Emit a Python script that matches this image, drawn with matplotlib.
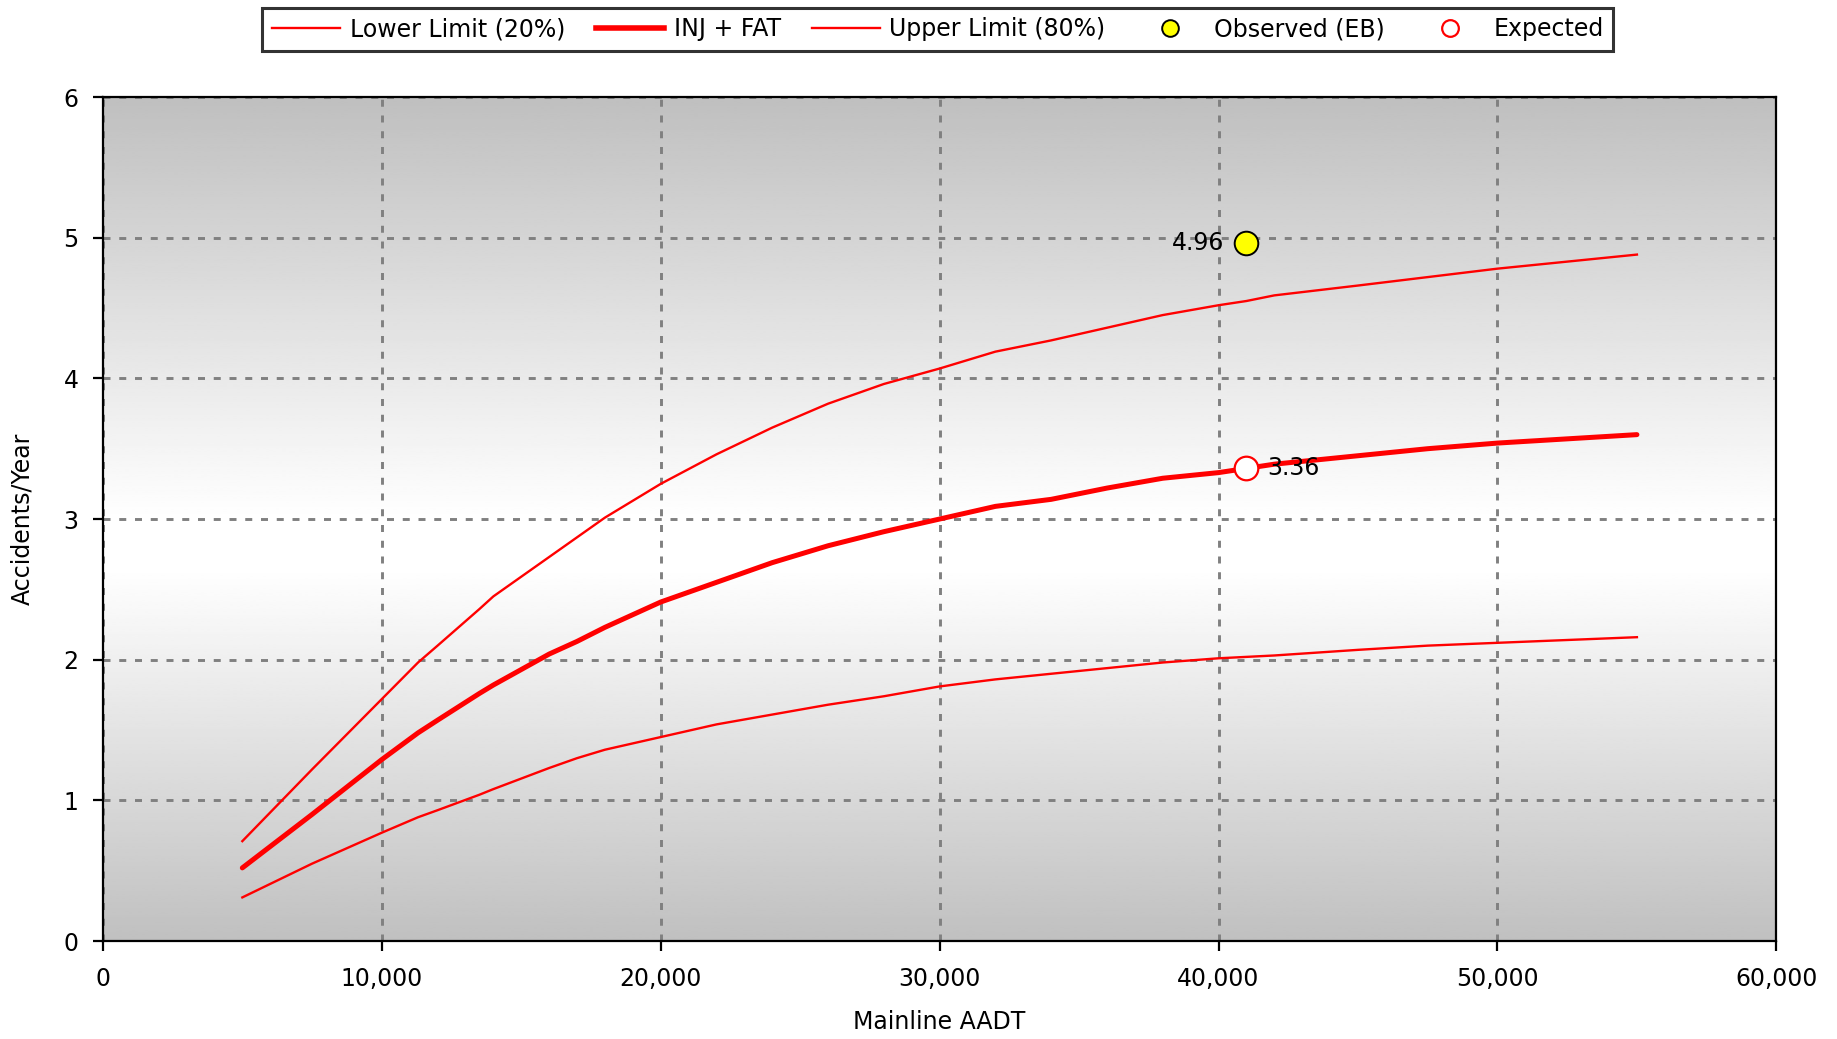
import numpy as np
import matplotlib
matplotlib.use("Agg")
import matplotlib.pyplot as plt
from matplotlib.lines import Line2D

plt.rcParams['font.family'] = ['DejaVu Sans']

aadt = [5000, 7500, 10000, 11300, 12000, 13500, 14000, 16000, 17000, 18000, 20000,
        22000, 24000, 26000, 28000, 30000, 32000, 34000, 36000, 38000, 40000, 41000,
        42000, 45000, 47500, 50000, 52500, 55000]
inj_fat = [0.52, 0.90, 1.29, 1.48, 1.57, 1.76, 1.82, 2.04, 2.13, 2.23, 2.41,
           2.55, 2.69, 2.81, 2.91, 3.00, 3.09, 3.14, 3.22, 3.29, 3.33, 3.36,
           3.39, 3.45, 3.50, 3.54, 3.57, 3.60]
upper = [0.71, 1.22, 1.72, 1.98, 2.10, 2.36, 2.45, 2.73, 2.87, 3.01, 3.25,
         3.46, 3.65, 3.82, 3.96, 4.07, 4.19, 4.27, 4.36, 4.45, 4.52, 4.55,
         4.59, 4.66, 4.72, 4.78, 4.83, 4.88]
lower = [0.31, 0.55, 0.77, 0.88, 0.93, 1.04, 1.08, 1.23, 1.30, 1.36, 1.45,
         1.54, 1.61, 1.68, 1.74, 1.81, 1.86, 1.90, 1.94, 1.98, 2.01, 2.02,
         2.03, 2.07, 2.10, 2.12, 2.14, 2.16]
site_aadt = 41000
observed = 4.96
expected = 3.36

x_ticks = [0, 10000, 20000, 30000, 40000, 50000, 60000]
y_ticks = [0, 1, 2, 3, 4, 5, 6]

FS = 17

fig = plt.figure(figsize=(18.37, 10.39), dpi=100)
ax = fig.add_axes([0.056, 0.0943, 0.911, 0.8123])

# gradient background
yy = np.linspace(0, 6, 400)
g = np.interp(yy, [0, 2.65, 3.0, 6], [0.753, 1.0, 1.0, 0.75])
img = np.repeat(g[:, None], 2, axis=1)
ax.imshow(img, extent=[0, 60000, 0, 6], origin='lower', aspect='auto',
          cmap='gray', vmin=0, vmax=1, zorder=0, interpolation='bilinear')

ax.set_xlim(0, 60000)
ax.set_ylim(0, 6)
ax.set_xticks(x_ticks)
ax.set_yticks(y_ticks)
ax.set_xticklabels([f"{v:,}" for v in x_ticks])
ax.set_yticklabels([str(v) for v in y_ticks])
ax.grid(True, color='#808080', linestyle=(0, (2.4, 3.0)), linewidth=2.1, zorder=1)

for s in ax.spines.values():
    s.set_linewidth(1.6)
    s.set_color('black')
    s.set_zorder(5)

ax.tick_params(axis='both', direction='out', length=7.5, width=1.6, labelsize=FS, colors='black')
ax.tick_params(axis='x', pad=11)
ax.tick_params(axis='y', pad=10)

ax.plot(aadt, lower, color='red', lw=1.7, zorder=3)
ax.plot(aadt, inj_fat, color='red', lw=3.6, zorder=3, solid_capstyle='round')
ax.plot(aadt, upper, color='red', lw=1.7, zorder=3)

ax.plot([site_aadt], [observed], 'o', ms=17, mfc='yellow', mec='black', mew=1.4, zorder=6)
ax.plot([site_aadt], [expected], 'o', ms=17, mfc='white', mec='red', mew=1.6, zorder=6)
ax.annotate(f"{observed:.2f}", (site_aadt, observed), xytext=(-16, 0), textcoords='offset points',
            ha='right', va='center', fontsize=FS, zorder=7)
ax.annotate(f"{expected:.2f}", (site_aadt, expected), xytext=(15, 0), textcoords='offset points',
            ha='left', va='center', fontsize=FS, zorder=7)

ax.set_xlabel("Mainline AADT", fontsize=FS)
ax.set_ylabel("Accidents/Year", fontsize=FS)
ax.xaxis.set_label_coords(0.5, -0.082)
ax.yaxis.set_label_coords(-0.041, 0.5)

handles = [
    Line2D([], [], color='red', lw=1.7),
    Line2D([], [], color='red', lw=4.0),
    Line2D([], [], color='red', lw=1.7),
    Line2D([], [], ls='none', marker='o', ms=12, mfc='yellow', mec='black', mew=1.4),
    Line2D([], [], ls='none', marker='o', ms=12, mfc='none', mec='red', mew=1.6),
]
labels = ["Lower Limit (20%)", "INJ + FAT", "Upper Limit (80%)", "Observed (EB)", "Expected"]
leg = fig.legend(handles, labels, loc='upper center', bbox_to_anchor=(0.5105, 0.997), ncol=5,
                 fontsize=FS, frameon=True, fancybox=False, edgecolor='black',
                 handlelength=2.9, handletextpad=0.4, columnspacing=1.3, borderpad=0.4,
                 borderaxespad=0.2)
leg.get_frame().set_linewidth(2.2)

fig.savefig("out.png", dpi=100)
